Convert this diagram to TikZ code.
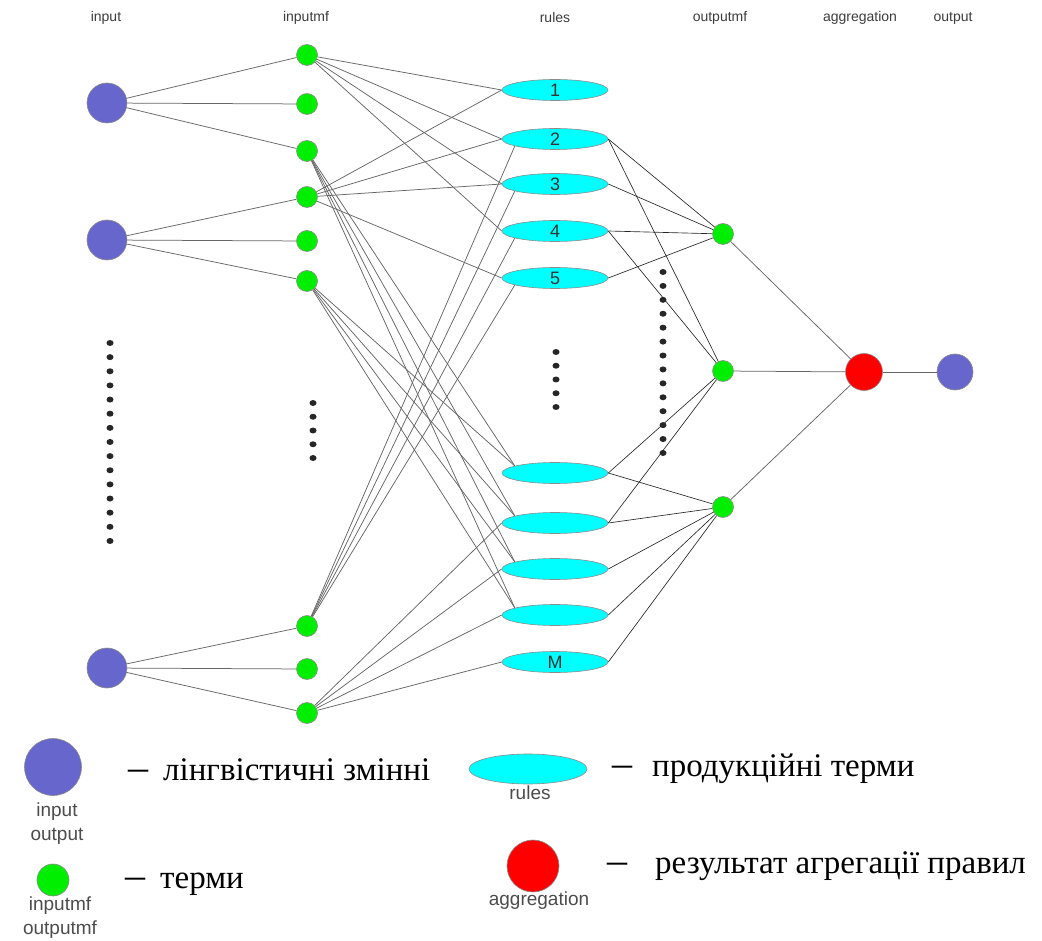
\documentclass[tikz,border=0pt]{standalone}
\usepackage{fontspec}
\setmainfont{Liberation Serif}
\setsansfont{Liberation Sans}
\usetikzlibrary{shapes.geometric}
\definecolor{inblue}{RGB}{102,102,204}
\definecolor{tgreen}{RGB}{0,238,0}
\definecolor{rcyan}{RGB}{0,255,255}
\definecolor{agred}{RGB}{255,0,0}
\definecolor{txtgray}{RGB}{60,60,60}
\begin{document}
\begin{tikzpicture}[x=1pt,y=-1pt,
  invar/.style={circle,fill=inblue,draw=black!45,line width=0.6pt,minimum size=40pt,inner sep=0},
  outvar/.style={circle,fill=inblue,draw=black!45,line width=0.6pt,minimum size=36pt,inner sep=0},
  term/.style={circle,fill=tgreen,draw=black!45,line width=0.6pt,minimum size=21pt,inner sep=0},
  rulebox/.style={ellipse,fill=rcyan,draw=black!45,line width=0.6pt,minimum width=106pt,minimum height=21pt,inner sep=0,font=\sffamily\fontsize{18}{18}\selectfont,text=black!80},
  aggbox/.style={circle,fill=agred,draw=black!45,line width=0.6pt,minimum size=37pt,inner sep=0},
  hdr/.style={font=\sffamily\fontsize{14}{14}\selectfont,text=txtgray},
  conn/.style={draw=black!60,line width=0.75pt},
  dconn/.style={draw=black!85,line width=0.65pt},
  dotn/.style={ellipse,fill=black!85,minimum width=7pt,minimum height=6pt,inner sep=0},
  leg/.style={font=\sffamily\fontsize{19}{24}\selectfont,text=black!70,align=center},
  uk/.style={font=\fontsize{33}{33}\selectfont,anchor=base west,inner sep=0},
  ukdash/.style={font=\fontsize{40}{40}\selectfont,anchor=base west,inner sep=0}
]
\useasboundingbox (0,0) rectangle (1042,941);

% headers
\node[hdr] (h1) at (106,18) {input};
\node[hdr] (h2) at (306,18) {inputmf};
\node[hdr] (h3) at (555,18) {rules};
\node[hdr] (h4) at (720,18) {outputmf};
\node[hdr] (h5) at (860,18) {aggregation};
\node[hdr] (h6) at (953,18) {output};

% dots
\foreach \i in {0,...,14} \node[dotn] (dl\i) at (110,343+14.14*\i) {};
\foreach \i in {0,...,4} \node[dotn] (dm\i) at (313,403+13.75*\i) {};
\foreach \i in {0,...,4} \node[dotn] (dr\i) at (556,352+13.75*\i) {};
\foreach \i in {0,...,13} \node[dotn] (do\i) at (663,272+13.92*\i) {};

% nodes
\node[invar] (I1) at (107,103) {};
\node[invar] (I2) at (107,240) {};
\node[invar] (I3) at (107,668) {};

\node[term] (m1) at (307,55) {};
\node[term] (m2) at (307,104) {};
\node[term] (m3) at (307,151) {};
\node[term] (m4) at (307,197) {};
\node[term] (m5) at (307,241) {};
\node[term] (m6) at (307,281) {};
\node[term] (m7) at (307,626) {};
\node[term] (m8) at (307,669) {};
\node[term] (m9) at (307,713) {};

\node[rulebox] (R1) at (555,90) {1};
\node[rulebox] (R2) at (555,139) {2};
\node[rulebox] (R3) at (555,184) {3};
\node[rulebox] (R4) at (555,231) {4};
\node[rulebox] (R5) at (555,278) {5};
\node[rulebox] (R6) at (555,473) {};
\node[rulebox] (R7) at (555,523) {};
\node[rulebox] (R8) at (555,569) {};
\node[rulebox] (R9) at (555,615) {};
\node[rulebox] (RM) at (555,662) {M};

\node[term] (o1) at (723,234) {};
\node[term] (o2) at (723,371) {};
\node[term] (o3) at (723,507) {};

\node[aggbox] (ag) at (864,372) {};
\node[outvar] (out) at (955,372) {};

% connections
\foreach \a/\b in {I1/m1,I1/m2,I1/m3,I2/m4,I2/m5,I2/m6,I3/m7,I3/m8,I3/m9}
  \draw[conn] (\a) -- (\b);
\foreach \r in {R1,R2,R3,R4} \draw[conn] (m1) -- (\r.west);
\foreach \r in {R1,R2,R3,R5} \draw[conn] (m4) -- (\r.west);
\foreach \r in {R6,R7,R8,R9} \draw[conn] (m3) -- (\r.170);
\foreach \r in {R6,R7,R8,R9} \draw[conn] (m6) -- (\r.170);
\foreach \r in {R2,R3,R4,R5} \draw[conn] (m7) -- (\r.190);
\foreach \r in {R7,R8,R9,RM} \draw[conn] (m9) -- (\r.west);
\foreach \r/\o in {R2/o1,R2/o2,R3/o1,R4/o1,R4/o2,R5/o1,R6/o2,R6/o3,R7/o2,R7/o3,R8/o3,R9/o3,RM/o3}
  \draw[dconn] (\r.east) -- (\o);
\foreach \o in {o1,o2,o3} \draw[conn] (\o) -- (ag);
\draw[conn] (ag) -- (out);

% legend
\node[circle,fill=inblue,draw=black!45,line width=0.6pt,minimum size=57pt,inner sep=0] (L1) at (53,767) {};
\node[leg] (L1t) at (57,824) {input\\output};
\node[circle,fill=tgreen,draw=black!45,line width=0.6pt,minimum size=32pt,inner sep=0] (L2) at (53,880) {};
\node[leg] (L2t) at (60,918) {inputmf\\outputmf};
\node[ellipse,fill=rcyan,draw=black!45,line width=0.6pt,minimum width=118pt,minimum height=30pt,inner sep=0] (L3) at (528,769) {};
\node[leg] (L3t) at (530,793) {rules};
\node[circle,fill=agred,draw=black!45,line width=0.6pt,minimum size=52pt,inner sep=0] (L4) at (533,866) {};
\node[leg] (L4t) at (539,901) {aggregation};

\node[ukdash] (d1) at (128,780) {–};
\node[uk] (t1) at (163,780) {лінгвістичні змінні};
\node[ukdash] (d2) at (125,888) {–};
\node[uk] (t2) at (160,888) {терми};
\node[ukdash] (d3) at (612,776) {–};
\node[uk] (t3) at (652,776) {продукційні терми};
\node[ukdash] (d4) at (607,873) {–};
\node[uk] (t4) at (655,873) {результат агрегації правил};
\end{tikzpicture}
\end{document}
